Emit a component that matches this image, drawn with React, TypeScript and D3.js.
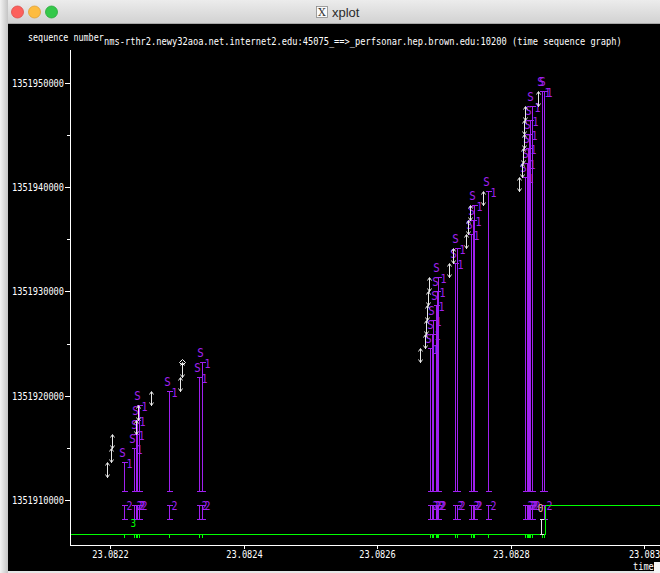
import React from 'react';
import * as d3 from 'd3';

const W = 660;
const H = 573;

// time axis (seconds) and sequence-number axis
const timeDomain = [23.08214007, 23.08302397];
const timeTicks = [23.0822, 23.0824, 23.0826, 23.0828, 23.083];
const timeTickLabels = ['23.0822', '23.0824', '23.0826', '23.0828', '23.083'];
const seqDomain = [1351905687, 1351953132];
const seqTicks = [1351910000, 1351920000, 1351930000, 1351940000, 1351950000];
const seqMinorTicks = [1351915000, 1351925000, 1351935000, 1351945000];

// data segments sent (time, first byte, last byte)
const segTimes = [
  23.08219596, 23.0822015, 23.082203, 23.08223895, 23.0822412, 23.08226142, 23.08230487, 23.08230831,
  23.08266487, 23.08267191, 23.08267341, 23.08267416, 23.08267596, 23.08267745,
  23.08270861, 23.08271356, 23.08273288, 23.08273558, 23.08273888, 23.0827585,
  23.08281348, 23.08281693, 23.08281843, 23.08281948, 23.08282097, 23.08282247, 23.0828415,
];
const segLo = [
  1351912240, 1351913608, 1351914976, 1351916344, 1351917712, 1351919080, 1351920448, 1351921816,
  1351923184, 1351924552, 1351925920, 1351927288, 1351928656, 1351930024,
  1351931392, 1351932760, 1351934128, 1351935496, 1351936864, 1351938232,
  1351939600, 1351940968, 1351942336, 1351943704, 1351945072, 1351946440, 1351947808,
];
const segHi = [
  1351913608, 1351914976, 1351916344, 1351917712, 1351919080, 1351920448, 1351921816, 1351923184,
  1351924552, 1351925920, 1351927288, 1351928656, 1351930024, 1351931392,
  1351932760, 1351934128, 1351935496, 1351936864, 1351938232, 1351939600,
  1351940968, 1351942336, 1351943704, 1351945072, 1351946440, 1351947808, 1351949176,
];
// segments flagged as hardware duplicates (diamond at the top)
const dupSegIndex = [7];

// incoming ACKs carrying SACK blocks
const sackTimes = [
  23.08222097, 23.08223596, 23.0822382, 23.08224045, 23.0822427, 23.08228839, 23.08233378, 23.08233828,
  23.08267865, 23.08268165, 23.08268464, 23.08268764, 23.08268989, 23.08269213,
  23.08271685, 23.08271985, 23.08274082, 23.08274307, 23.08274532, 23.08276629,
  23.08282127, 23.08282472, 23.08282622, 23.08282772, 23.08282996, 23.08283146, 23.08284674, 23.08285064,
];
// block 1: [sack1Lo, sack1Hi]
const sack1Lo = 1351910872;
const sack1Hi = [
  1351913608, 1351914976, 1351916344, 1351917712, 1351919080, 1351920448, 1351921816, 1351923184,
  1351924552, 1351925920, 1351927288, 1351928656, 1351930024, 1351931392,
  1351932760, 1351934128, 1351935496, 1351936864, 1351938232, 1351939600,
  1351940968, 1351942336, 1351943704, 1351945072, 1351946440, 1351947808, 1351949176, 1351949176,
];
// block 2: [sack2Lo, sack2Hi], present on all but one ACK
const sack2Lo = 1351908136;
const sack2Hi = 1351909504;
const sack2Present = [
  1, 1, 1, 1, 1, 1, 1, 1,
  1, 1, 1, 1, 1, 1,
  1, 1, 1, 1, 1, 1,
  1, 1, 1, 1, 1, 1, 0, 1,
];

// cumulative ACK line
const ackTimes = [23.08214007, 23.08285169, 23.08285169, 23.08302397];
const ackSeqs = [1351906768, 1351906768, 1351909504, 1351909504];

// triple duplicate ACK marker
const dupAckTime = 23.08223506;
const dupAckSeq = 1351907767;

// retransmitted segment
const rexmitTime = 23.08284614;
const rexmitLo = 1351906768;
const rexmitHi = 1351908136;
const outOfOrderTime = 23.08284494;
const outOfOrderSeq = 1351909150;

const FONT = 'DejaVu Sans Mono';
const PURPLE = '#a020f0';
const GREEN = '#00ff00';

function Txt(props: {
  x: number; y: number; s: string; size?: number; fill?: string; cw?: number; anchor?: 'start' | 'middle' | 'end';
}) {
  const { x, y, s, size = 11, fill = '#fff', cw = 5.2, anchor = 'start' } = props;
  const len = s.length * cw;
  const x0 = anchor === 'middle' ? x - len / 2 : anchor === 'end' ? x - len : x;
  return (
    <text
      x={x0}
      y={y}
      fontFamily={FONT}
      fontSize={size}
      fill={fill}
      textLength={len}
      lengthAdjust="spacingAndGlyphs"
      dominantBaseline="central"
    >
      {s}
    </text>
  );
}

function IBar(props: { x: number; y1: number; y2: number; w: number; color: string }) {
  const { x, y1, y2, w, color } = props;
  return (
    <g stroke={color} strokeWidth={1} shapeRendering="crispEdges">
      <line x1={x} x2={x} y1={y1} y2={y2} />
      <line x1={x - w} x2={x + w} y1={y1} y2={y1} />
      <line x1={x - w} x2={x + w} y1={y2} y2={y2} />
    </g>
  );
}

export default function App() {
  const x = d3.scaleLinear().domain(timeDomain).range([70, 660]);
  const y = d3.scaleLinear().domain(seqDomain).range([545, 50]);
  const px = (v: number) => Math.round(x(v)) + 0.5;
  const py = (v: number) => Math.round(y(v)) + 0.5;

  const ackPts = d3.pairs(ackTimes.map((t, i) => [px(t), py(ackSeqs[i])] as [number, number]));

  return (
    <svg
      width={W}
      height={H}
      viewBox={`0 0 ${W} ${H}`}
      style={{ position: 'absolute', left: 0, top: 0, display: 'block' }}
    >
      <defs>
        <linearGradient id="titlebar" x1="0" y1="0" x2="0" y2="1">
          <stop offset="0" stopColor="#ececec" />
          <stop offset="1" stopColor="#d2d2d2" />
        </linearGradient>
        <linearGradient id="edge" x1="0" y1="0" x2="1" y2="0">
          <stop offset="0" stopColor="#f2f2f2" />
          <stop offset="1" stopColor="#c4c4c4" />
        </linearGradient>
      </defs>

      {/* window frame */}
      <rect x={0} y={0} width={W} height={H} fill="#e6e6e6" />
      <rect x={0} y={0} width={8} height={H} fill="url(#edge)" />
      <rect x={8} y={0} width={W - 8} height={23} fill="url(#titlebar)" />
      <line x1={8} x2={W} y1={23.5} y2={23.5} stroke="#a8a8a8" />
      <circle cx={17.5} cy={12} r={6} fill="#fc605c" stroke="#de4a46" strokeWidth={0.8} />
      <circle cx={34.5} cy={12} r={6} fill="#fdbc40" stroke="#dea033" strokeWidth={0.8} />
      <circle cx={51.5} cy={12} r={6} fill="#34c84a" stroke="#27a83a" strokeWidth={0.8} />
      <rect x={316.5} y={6.5} width={11} height={11} fill="#fafafa" stroke="#8a8a8a" strokeWidth={0.8} />
      <text x={322} y={15.5} fontFamily="DejaVu Serif" fontSize={11} fill="#333" textAnchor="middle">X</text>
      <text x={332} y={16.5} fontFamily="Liberation Sans" fontSize={13} fill="#2a2a2a">xplot</text>

      {/* plot canvas */}
      <rect x={8} y={24} width={W - 8} height={547} fill="#000" />

      {/* headings */}
      <Txt x={28} y={37} s="sequence number" size={10.5} cw={5.05} />
      <Txt
        x={104}
        y={41}
        s="nms-rthr2.newy32aoa.net.internet2.edu:45075_==>_perfsonar.hep.brown.edu:10200 (time sequence graph)"
        size={10.5}
        cw={5.23}
      />

      {/* axes */}
      <g stroke="#fff" strokeWidth={1} shapeRendering="crispEdges">
        <line x1={70.5} x2={70.5} y1={50} y2={545.5} />
        <line x1={70} x2={W} y1={545.5} y2={545.5} />
        {seqTicks.map((s) => (
          <line key={s} x1={65} x2={70} y1={py(s)} y2={py(s)} />
        ))}
        {seqMinorTicks.map((s) => (
          <line key={s} x1={67} x2={70} y1={py(s)} y2={py(s)} />
        ))}
        {timeTicks.map((t) => (
          <line key={t} x1={px(t)} x2={px(t)} y1={545} y2={549} />
        ))}
      </g>
      {seqTicks.map((s) => (
        <Txt key={s} x={64} y={py(s)} s={String(s)} anchor="end" />
      ))}
      {timeTicks.map((t, i) => (
        <Txt key={t} x={px(t)} y={554} s={timeTickLabels[i]} anchor="middle" />
      ))}
      <Txt x={633} y={566} s="time" />
      <rect x={654} y={562} width={6} height={11} fill="#f4f4f4" />

      {/* SACK block 2 */}
      {sackTimes.map((t, i) =>
        sack2Present[i] ? (
          <g key={`s2${i}`}>
            <IBar x={px(t)} y1={py(sack2Hi)} y2={py(sack2Lo)} w={3} color={PURPLE} />
            <Txt x={px(t) + 5} y={py(sack2Hi)} s="2" fill={PURPLE} anchor="middle" cw={6} size={11.5} />
          </g>
        ) : null
      )}

      {/* SACK block 1 */}
      {sackTimes.map((t, i) => (
        <g key={`s1${i}`}>
          <IBar x={px(t)} y1={py(sack1Hi[i])} y2={py(sack1Lo)} w={3} color={PURPLE} />
          <Txt x={px(t) - 2} y={py(sack1Hi[i]) - 10} s="S" fill={PURPLE} anchor="middle" cw={6.5} size={12} />
          <Txt x={px(t) + 5} y={py(sack1Hi[i]) + 1} s="1" fill={PURPLE} anchor="middle" cw={6} size={11.5} />
        </g>
      ))}

      {/* cumulative ACK line and per-ACK ticks */}
      <g stroke={GREEN} strokeWidth={1} shapeRendering="crispEdges">
        {ackPts.map(([a, b], i) => (
          <line key={`a${i}`} x1={a[0]} y1={a[1]} x2={b[0]} y2={b[1]} />
        ))}
        {sackTimes.map((t, i) => (
          <line key={i} x1={px(t)} x2={px(t)} y1={py(ackSeqs[0])} y2={py(ackSeqs[0]) + 3} />
        ))}
      </g>
      <Txt x={x(dupAckTime)} y={y(dupAckSeq)} s="3" fill={GREEN} anchor="middle" cw={5.6} />

      {/* data segments */}
      {segTimes.map((t, i) => {
        const cx = px(t);
        const top = py(segHi[i]);
        const bot = py(segLo[i]);
        return (
          <g key={`seg${i}`} stroke="#e8e8e8" strokeWidth={1} fill="none">
            <line x1={cx} x2={cx} y1={top} y2={bot} shapeRendering="crispEdges" />
            <polyline points={`${cx - 2},${top + 3} ${cx},${top} ${cx + 2},${top + 3}`} />
            <polyline points={`${cx - 2},${bot - 3} ${cx},${bot} ${cx + 2},${bot - 3}`} />
          </g>
        );
      })}
      {dupSegIndex.map((i) => {
        const cx = px(segTimes[i]);
        const top = py(segHi[i]);
        return (
          <polygon
            key={`d${i}`}
            points={`${cx},${top - 3} ${cx + 3},${top} ${cx},${top + 3} ${cx - 3},${top}`}
            fill="none"
            stroke="#fff"
          />
        );
      })}

      {/* retransmission */}
      <IBar x={px(rexmitTime)} y1={py(rexmitHi)} y2={py(rexmitLo)} w={2} color="#e8e8e8" />
      <Txt x={x(outOfOrderTime)} y={y(outOfOrderSeq)} s="0" fill="#f4b8c0" anchor="middle" cw={5.6} />
    </svg>
  );
}
